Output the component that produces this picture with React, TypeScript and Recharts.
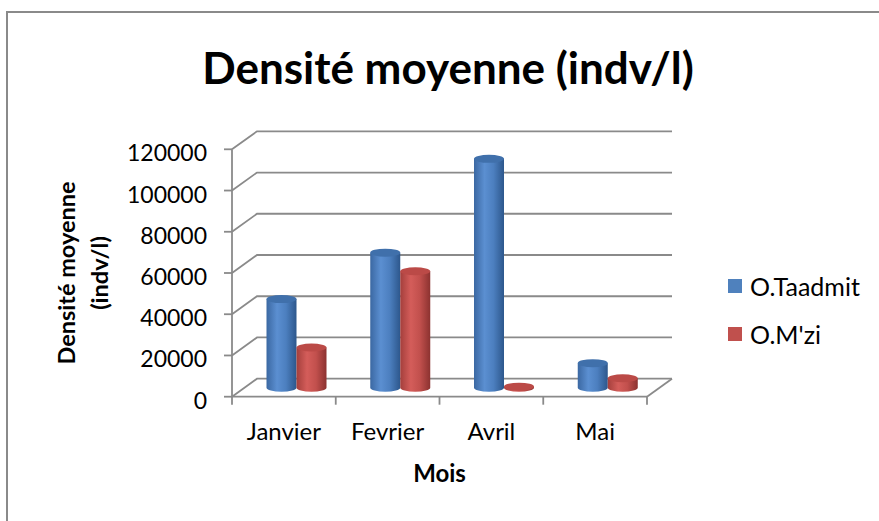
import React from 'react';
import {
  BarChart,
  Bar,
  XAxis,
  YAxis,
  CartesianGrid,
  Legend
} from 'recharts';

// values
const months = ['Janvier', 'Fevrier', 'Avril', 'Mai'];
const seriesNames = ['O.Taadmit', "O.M'zi"];
const taadmit = [43000, 65500, 111000, 11900];
const mzi = [19500, 56500, 500, 4600];
const yTicks = [0, 20000, 40000, 60000, 80000, 100000, 120000];

const data = months.map((m, i) => ({ name: m, taadmit: taadmit[i], mzi: mzi[i] }));

const W = 879;
const H = 521;
const PLOT_LEFT = 232;
const PLOT_RIGHT = 647;
const PLOT_TOP = 149.3;
const PLOT_BOTTOM = 396.7;
const X_AXIS_H = 85;
// oblique depth of the 3d box
const DX = 25;
const DY = -18;
const GRID = '#8a8a8a';
const FONT = 'Lato, "DejaVu Sans", sans-serif';

const BLUE = '#4F81BD';
const RED = '#C0504D';

function cylinder(gradId: string, topFill: string) {
  return (p: any) => {
    const { x, y, width, height } = p;
    if (x == null || width == null) return null;
    const left = x + DX / 2;
    const right = left + width;
    const yt = y + DY / 2;
    const yb = y + height + DY / 2;
    const rx = width / 2;
    const ry = 4;
    const d = `M${left},${yt} L${left},${yb} A${rx},${ry} 0 0 0 ${right},${yb} L${right},${yt} Z`;
    return (
      <g>
        <path d={d} fill={`url(#${gradId})`} />
        <ellipse cx={left + rx} cy={yt} rx={rx} ry={ry} fill={topFill} />
      </g>
    );
  };
}

// each horizontal grid line becomes: side-wall diagonal + back-wall line
const gridLine = (p: any) => {
  const { x1, x2, y1 } = p;
  const isFloor = Math.abs(y1 - PLOT_BOTTOM) < 1;
  return (
    <g key={p.key}>
      <polyline
        points={`${x1},${y1} ${x1 + DX},${y1 + DY} ${x2 + DX},${y1 + DY}`}
        fill="none"
        stroke={GRID}
        strokeWidth={1.8}
      />
      {isFloor && (
        <line x1={x2} y1={y1} x2={x2 + DX} y2={y1 + DY} stroke={GRID} strokeWidth={1.8} />
      )}
    </g>
  );
};

const XTick = ({ x, payload, index }: any) => {
  const bw = (PLOT_RIGHT - PLOT_LEFT) / months.length;
  return (
    <g>
      <line x1={x - bw / 2} y1={PLOT_BOTTOM} x2={x - bw / 2} y2={PLOT_BOTTOM + 8} stroke={GRID} strokeWidth={1.8} />
      {index === months.length - 1 && (
        <line x1={x + bw / 2} y1={PLOT_BOTTOM} x2={x + bw / 2} y2={PLOT_BOTTOM + 8} stroke={GRID} strokeWidth={1.8} />
      )}
      <text x={x} y={PLOT_BOTTOM + 43} textAnchor="middle" fontFamily={FONT} fontSize={24} fill="#000">
        {payload.value}
      </text>
    </g>
  );
};

const YTick = ({ x, y, payload }: any) => (
  <text x={x} y={y + 12} textAnchor="end" fontFamily={FONT} fontSize={23} fill="#000">
    {payload.value}
  </text>
);

const YTitle = ({ viewBox }: any) => {
  const cy = viewBox.y + viewBox.height / 2;
  return (
    <text
      transform={`rotate(-90 75 ${cy})`}
      x={75}
      y={cy}
      textAnchor="middle"
      fontFamily={FONT}
      fontSize={23.5}
      fontWeight="bold"
      fill="#000"
    >
      <tspan x={75} dy={0}>Densité moyenne</tspan>
      <tspan x={75} dy={33}>(indv/l)</tspan>
    </text>
  );
};

const LegendBox = () => (
  <div style={{ fontFamily: FONT, fontSize: 25, color: '#000' }}>
    {seriesNames.map((n, i) => (
      <div key={n} style={{ display: 'flex', alignItems: 'center', height: 48 }}>
        <span
          style={{
            display: 'inline-block',
            width: 14,
            height: 14,
            background: i === 0 ? BLUE : RED,
            marginRight: 8
          }}
        />
        {n}
      </div>
    ))}
  </div>
);

export default function App() {
  return (
    <div style={{ position: 'absolute', left: 0, top: 0, width: W, height: H, background: '#fff' }}>
      <div
        style={{
          position: 'absolute',
          left: 6,
          top: 11,
          width: W - 6,
          height: H - 11,
          borderLeft: `2px solid ${GRID}`,
          borderTop: `2px solid ${GRID}`,
          boxSizing: 'border-box'
        }}
      />
      <svg width={W} height={100} style={{ position: 'absolute', left: 0, top: 0 }}>
        <text x={448} y={84} textAnchor="middle" fontFamily={FONT} fontSize={44} fontWeight="bold" fill="#000">
          Densité moyenne (indv/l)
        </text>
      </svg>
      <div style={{ position: 'absolute', left: 0, top: 0 }}>
        <BarChart
          width={W}
          height={H}
          data={data}
          margin={{
            top: PLOT_TOP,
            right: W - PLOT_RIGHT,
            left: 0,
            bottom: H - PLOT_BOTTOM - X_AXIS_H
          }}
          barSize={30}
          barGap={0}
        >
          <defs>
            <linearGradient id="gBlue" x1="0" y1="0" x2="1" y2="0">
              <stop offset="0%" stopColor="#3b68a2" />
              <stop offset="35%" stopColor="#5b8fd1" />
              <stop offset="65%" stopColor="#4c7fbf" />
              <stop offset="100%" stopColor="#2d578c" />
            </linearGradient>
            <linearGradient id="gRed" x1="0" y1="0" x2="1" y2="0">
              <stop offset="0%" stopColor="#a43f3c" />
              <stop offset="35%" stopColor="#d45d5a" />
              <stop offset="65%" stopColor="#c2504d" />
              <stop offset="100%" stopColor="#8c3230" />
            </linearGradient>
          </defs>
          <CartesianGrid vertical={false} horizontal={gridLine} />
          <XAxis
            dataKey="name"
            height={X_AXIS_H}
            axisLine={{ stroke: GRID, strokeWidth: 1.8 }}
            tickLine={false}
            tick={<XTick />}
            interval={0}
            label={{
              value: 'Mois',
              position: 'insideBottom',
              offset: 0,
              fontFamily: FONT,
              fontSize: 24,
              fontWeight: 'bold',
              fill: '#000'
            }}
          />
          <YAxis
            width={PLOT_LEFT}
            domain={[0, 120000]}
            ticks={yTicks}
            interval={0}
            axisLine={{ stroke: GRID, strokeWidth: 1.8 }}
            tickLine={{ stroke: GRID, strokeWidth: 1.8 }}
            tickSize={8}
            tickMargin={17}
            tick={<YTick />}
            label={<YTitle />}
          />
          <Legend
            layout="vertical"
            align="center"
            verticalAlign="middle"
            wrapperStyle={{ left: 728, top: 262, width: 150 }}
            content={<LegendBox />}
          />
          <Bar dataKey="taadmit" name={seriesNames[0]} fill={BLUE} shape={cylinder('gBlue', '#4070ab')} isAnimationActive={false} />
          <Bar dataKey="mzi" name={seriesNames[1]} fill={RED} shape={cylinder('gRed', '#bb4a47')} isAnimationActive={false} />
        </BarChart>
      </div>
    </div>
  );
}
